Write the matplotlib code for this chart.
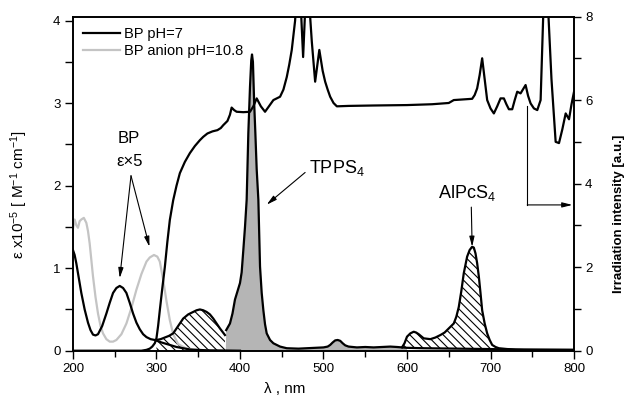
import matplotlib
matplotlib.use("Agg")
import matplotlib.pyplot as plt
from matplotlib.ticker import MultipleLocator
import numpy as np

plt.rcParams['font.family'] = ['Liberation Sans', 'DejaVu Sans']
plt.rcParams['hatch.linewidth'] = 0.8
plt.rcParams['mathtext.fontset'] = 'custom'
plt.rcParams['mathtext.rm'] = 'Liberation Sans'
plt.rcParams['mathtext.it'] = 'Liberation Sans'

# BP pH=7 (left axis)
bp7_wl = [200, 202, 204, 207, 210, 214, 218, 221, 224, 227, 230, 235, 240, 244, 248, 252, 256, 260, 264, 268, 272, 276, 280, 284, 288, 293, 298, 306, 316, 324, 332, 340, 360, 400]
bp7 = [1.22, 1.16, 1.06, 0.88, 0.70, 0.50, 0.34, 0.25, 0.195, 0.185, 0.20, 0.30, 0.45, 0.58, 0.70, 0.76, 0.785, 0.76, 0.70, 0.58, 0.45, 0.34, 0.26, 0.20, 0.165, 0.14, 0.13, 0.10, 0.07, 0.045, 0.03, 0.015, 0.005, 0.0]

# BP anion pH=10.8 (left axis)
bpa_wl = [200, 202, 204, 206, 208, 210, 213, 216, 218, 220, 222, 224, 227, 230, 233, 236, 240, 244, 248, 252, 258, 264, 270, 276, 282, 288, 292, 297, 301, 304, 308, 312, 316, 320, 326, 335, 345, 360]
bpa = [1.48, 1.59, 1.52, 1.49, 1.57, 1.59, 1.61, 1.55, 1.45, 1.30, 1.10, 0.90, 0.65, 0.45, 0.30, 0.21, 0.14, 0.11, 0.11, 0.13, 0.2, 0.33, 0.52, 0.74, 0.93, 1.08, 1.13, 1.16, 1.14, 1.08, 0.86, 0.60, 0.37, 0.2, 0.08, 0.03, 0.01, 0.0]

# Hatched band 300-383 (left axis)
h1_wl = [300, 305, 310, 315, 320, 326, 332, 338, 344, 348, 352, 356, 360, 364, 368, 372, 376, 379, 382]
h1 = [0.13, 0.14, 0.16, 0.18, 0.21, 0.30, 0.39, 0.44, 0.47, 0.49, 0.50, 0.49, 0.47, 0.44, 0.39, 0.33, 0.27, 0.23, 0.19]

# TPPS4 (left axis, grey fill)
tp_wl = [383, 383.5, 388, 391, 394, 397, 400, 402, 404, 406, 408, 410, 412, 413.5, 414.4, 415.5, 417, 418.4, 420, 422, 424, 426, 428, 430, 432, 436, 440, 448, 456, 470, 480, 490, 500, 505, 508, 511, 514, 517, 520, 523, 526, 530, 540, 550, 560, 570, 580, 588, 594, 600, 620, 660, 700, 740, 800]
tp = [0.0, 0.25, 0.33, 0.45, 0.62, 0.72, 0.82, 0.95, 1.22, 1.50, 1.83, 2.64, 3.2, 3.52, 3.59, 3.50, 3.0, 2.64, 2.2, 1.83, 1.02, 0.70, 0.49, 0.32, 0.21, 0.13, 0.09, 0.05, 0.03, 0.025, 0.03, 0.035, 0.04, 0.05, 0.07, 0.10, 0.125, 0.13, 0.12, 0.09, 0.065, 0.05, 0.04, 0.045, 0.04, 0.045, 0.05, 0.045, 0.04, 0.035, 0.03, 0.025, 0.02, 0.01, 0.01]
tp_fill_end = 600

# AlPcS4 (left axis, hatched)
al_wl = [594, 597, 600, 604, 608, 611, 614, 620, 628, 634, 640, 645, 650, 656, 659, 662, 665, 668, 672, 675, 678, 680, 682, 684, 686, 688, 690, 693, 696, 699, 702, 706, 710, 720, 730, 800]
al = [0.04, 0.09, 0.17, 0.21, 0.23, 0.22, 0.20, 0.15, 0.14, 0.16, 0.19, 0.22, 0.27, 0.33, 0.41, 0.53, 0.72, 0.94, 1.14, 1.22, 1.26, 1.25, 1.18, 1.06, 0.90, 0.70, 0.49, 0.33, 0.21, 0.13, 0.07, 0.045, 0.03, 0.02, 0.015, 0.01]

# Irradiation intensity (right axis)
ir_wl = [200, 282, 288, 292, 295, 298, 300, 302, 304, 307, 310, 313, 316, 320, 324, 328, 334, 340, 346, 352, 356, 361, 367, 373, 377, 380, 385, 388, 390, 393, 396, 404, 412, 416, 420, 425, 430, 435, 440, 448, 452, 456, 459, 462, 466, 468, 472, 475.6, 479, 482, 486, 490, 495, 499, 502, 505, 508, 512, 516, 530, 560, 600, 630, 650, 656, 678, 681, 684, 687, 690, 693, 696, 700, 704, 708, 712, 716, 719, 722, 726, 729, 732, 736, 742, 745, 748, 752, 756, 760, 764, 768, 773, 778, 782, 786, 790, 794, 797, 800]
ir = [0.0, 0.0, 0.02, 0.05, 0.1, 0.18, 0.3, 0.6, 0.97, 1.5, 2.0, 2.6, 3.13, 3.6, 3.95, 4.25, 4.52, 4.73, 4.9, 5.04, 5.12, 5.2, 5.25, 5.28, 5.33, 5.4, 5.5, 5.65, 5.82, 5.76, 5.72, 5.71, 5.72, 5.85, 6.04, 5.85, 5.72, 5.86, 6.0, 6.08, 6.25, 6.55, 6.85, 7.2, 7.9, 8.6, 8.6, 7.03, 8.6, 8.6, 7.4, 6.44, 7.2, 6.7, 6.44, 6.25, 6.08, 5.93, 5.85, 5.86, 5.87, 5.88, 5.90, 5.93, 6.0, 6.03, 6.12, 6.28, 6.6, 7.0, 6.5, 6.0, 5.8, 5.68, 5.85, 6.04, 6.04, 5.9, 5.78, 5.78, 6.0, 6.2, 6.16, 6.36, 6.1, 5.92, 5.8, 5.76, 6.0, 8.6, 8.6, 6.5, 5.0, 4.97, 5.3, 5.68, 5.54, 5.9, 6.2]

fig = plt.figure(figsize=(6.29, 3.97), dpi=100)
ax = fig.add_axes([0.116, 0.1166, 0.7966, 0.8418])
ax2 = ax.twinx()

lw = 1.6
fill_grey = '#b5b5b5'

# hatched band 1
ax.fill_between(h1_wl, 0, h1, facecolor='white', edgecolor='black', hatch='\\\\\\\\', linewidth=0, zorder=1)
ax.plot(h1_wl, h1, color='black', lw=lw, zorder=3)

# TPPS4 grey fill
tp_wl_a = np.array(tp_wl); tp_a = np.array(tp)
m = tp_wl_a <= tp_fill_end
ax.fill_between(tp_wl_a[m], 0, tp_a[m], facecolor=fill_grey, edgecolor='none', zorder=1)

# AlPcS4 hatch
al_a = np.array(al); al_wl_a = np.array(al_wl)
base = np.interp(al_wl_a, tp_wl_a, tp_a)
ax.fill_between(al_wl_a, base, al_a, facecolor='white', edgecolor='black', hatch='\\\\\\\\', linewidth=0, zorder=1)
ax.plot(al_wl, al, color='black', lw=lw, zorder=3)
ax.plot(tp_wl[1:], tp[1:], color='black', lw=lw, zorder=3)

l2, = ax.plot(bpa_wl, bpa, color='#c4c4c4', lw=lw, zorder=2, label='BP anion pH=10.8')
l1, = ax.plot(bp7_wl, bp7, color='black', lw=lw, zorder=3, label='BP pH=7')

ax2.plot(ir_wl, ir, color='black', lw=lw, clip_on=True)

ax.set_xlim(200, 800)
ax.set_ylim(0, 4.05)
ax2.set_ylim(0, 8)

ax.xaxis.set_major_locator(MultipleLocator(100))
ax.xaxis.set_minor_locator(MultipleLocator(50))
ax.yaxis.set_major_locator(MultipleLocator(1))
ax.yaxis.set_minor_locator(MultipleLocator(0.5))
ax2.yaxis.set_major_locator(MultipleLocator(2))
ax2.yaxis.set_minor_locator(MultipleLocator(1))

for a in (ax, ax2):
    for s in a.spines.values():
        s.set_linewidth(1.2)
ax.tick_params(axis='x', which='major', direction='out', length=6, width=1.0, labelsize=9.5, pad=3)
ax.tick_params(axis='x', which='minor', direction='out', length=4, width=1.0)
ax.tick_params(axis='y', which='both', direction='out', length=6, width=1.0, labelsize=9.5, pad=3)
ax2.tick_params(axis='y', which='major', direction='out', length=5, width=1.0, labelsize=9.5, pad=3)
ax2.tick_params(axis='y', which='minor', direction='out', length=5, width=1.0)

ax.set_xlabel('λ , nm', fontsize=11)
ax.xaxis.set_label_coords(0.423, -0.095)
ax.set_ylabel(r'ε x10$^{-5}$ [ M$^{-1}$ cm$^{-1}$]', fontsize=11)
ax.yaxis.set_label_coords(-0.086, 0.466)
ax2.set_ylabel('Irradiation intensity [a.u.]', fontsize=9.5, fontweight='bold')
ax2.yaxis.set_label_coords(1.078, 0.41)

leg = ax.legend(handles=[l1, l2], loc='upper left', frameon=False, fontsize=10.5,
                handlelength=2.5, handletextpad=0.3, labelspacing=0.2,
                borderaxespad=0.5, borderpad=0.2)

arrow_kw = dict(arrowstyle='-|>,head_length=0.6,head_width=0.15', color='black', lw=0.8, shrinkA=0, shrinkB=0)
ax.text(267, 2.57, 'BP', ha='center', va='center', fontsize=12)
ax.text(268, 2.29, 'ε×5', ha='center', va='center', fontsize=12)
ax.annotate('', xy=(256, 0.88), xytext=(269.5, 2.12), arrowprops=arrow_kw)
ax.annotate('', xy=(291.6, 1.26), xytext=(269.5, 2.12), arrowprops=arrow_kw)

ax.text(483, 2.155, r'TPPS$_4$', ha='left', va='baseline', fontsize=13)
ax.annotate('', xy=(432, 1.77), xytext=(478, 2.16), arrowprops=arrow_kw)

ax.text(637, 1.85, r'AlPcS$_4$', ha='left', va='baseline', fontsize=13)
ax.annotate('', xy=(678, 1.26), xytext=(677, 1.74), arrowprops=arrow_kw)

ax2.plot([744, 744], [5.85, 3.49], color='black', lw=0.8)
ax2.annotate('', xy=(798, 3.49), xytext=(744, 3.49), arrowprops=arrow_kw)

fig.savefig('out.png', dpi=100)
